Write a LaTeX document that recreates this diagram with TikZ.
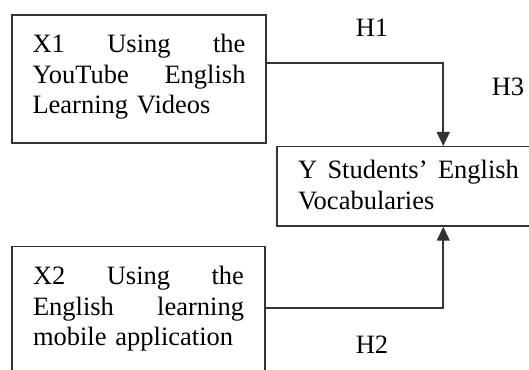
\documentclass[tikz,border=0pt]{standalone}
\usepackage{fontspec}
\setmainfont{Liberation Serif}
\usetikzlibrary{arrows.meta}
\newcommand\dfont{\fontsize{26.5pt}{30.5pt}\selectfont}
\newcommand\jline[2]{\leavevmode\hbox to #1{#2}}
\begin{document}
\begin{tikzpicture}[x=1pt,y=1pt,
  box/.style={draw=black!80, line width=1.5pt, inner sep=0pt, font=\dfont, align=left},
  arr/.style={draw=black!80, line width=1.6pt, -{Triangle[length=14pt,width=13pt]}},
  lbl/.style={font=\dfont, inner sep=0pt}]
\useasboundingbox (0,0) rectangle (529,369);
\clip (0,0) rectangle (529,369);
\fill[white] (0,0) rectangle (529,369);
\node[box, minimum width=254pt, minimum height=128pt, text width=213pt] (x1) at (139,290)
  {\jline{213pt}{X1\hfill Using\hfill the}\\\jline{213pt}{YouTube\hfill English}\\Learning Videos\vspace{4pt}};
\node[box, minimum width=263pt, minimum height=79.3pt, text width=221pt] (y) at (408.5,182.65)
  {\jline{221pt}{Y\hfill Students’\hfill English}\\Vocabularies\vspace{3pt}};
\node[box, minimum width=253pt, minimum height=128pt, text width=211pt] (x2) at (138.5,58.3)
  {\jline{211pt}{X2\hfill Using\hfill the}\\\jline{211pt}{English\hfill learning}\\mobile application\vspace{4pt}};
\draw[arr] ([yshift=15.7pt]x1.east) -| ([xshift=167pt]y.north west);
\draw[arr] ([yshift=2.5pt]x2.east) -| ([xshift=167pt]y.south west);
\node[lbl] (h1) at (372,341) {H1};
\node[lbl] (h3) at (508,282) {H3};
\node[lbl] (h2) at (372,24) {H2};
\end{tikzpicture}
\end{document}
